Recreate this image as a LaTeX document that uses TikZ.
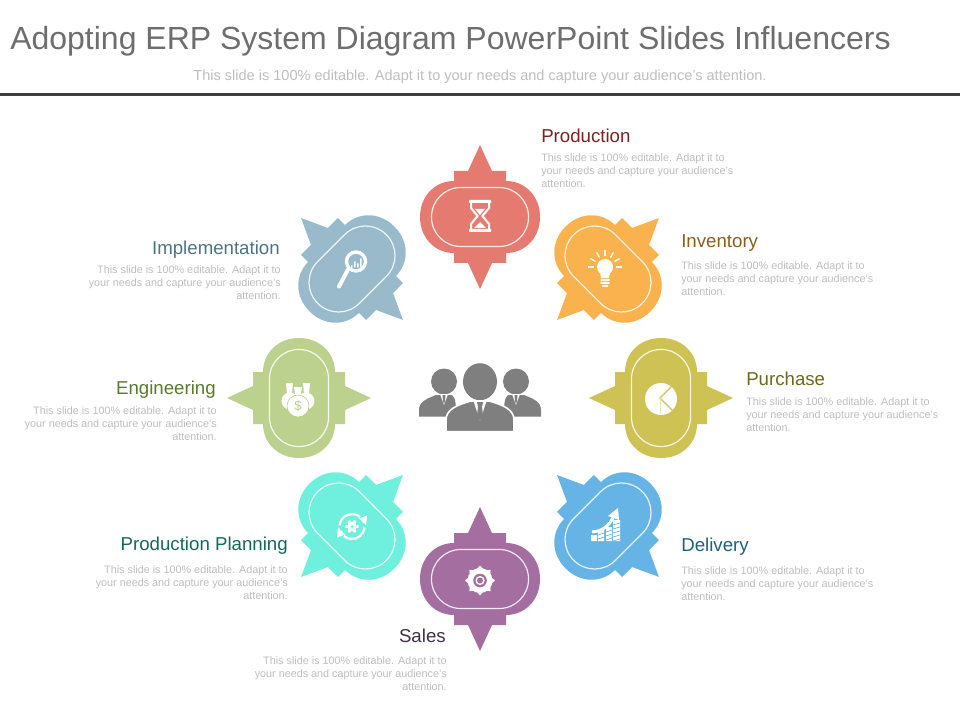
\documentclass[tikz,border=0pt]{standalone}
\usepackage{fontspec}
\setmainfont{Liberation Sans}
\usepackage{tikz}
\definecolor{petalProd}{RGB}{229, 123, 112}
\definecolor{petalInv}{RGB}{249, 178, 78}
\definecolor{petalPurch}{RGB}{207, 194, 84}
\definecolor{petalDeliv}{RGB}{102, 179, 230}
\definecolor{petalSales}{RGB}{165, 110, 160}
\definecolor{petalPlan}{RGB}{111, 240, 222}
\definecolor{petalEng}{RGB}{189, 209, 143}
\definecolor{petalImpl}{RGB}{152, 186, 202}
\definecolor{headProd}{RGB}{122, 35, 35}
\definecolor{headInv}{RGB}{139, 94, 30}
\definecolor{headPurch}{RGB}{109, 106, 31}
\definecolor{headDeliv}{RGB}{31, 95, 128}
\definecolor{headSales}{RGB}{64, 48, 74}
\definecolor{headPlan}{RGB}{20, 105, 93}
\definecolor{headEng}{RGB}{92, 122, 45}
\definecolor{headImpl}{RGB}{78, 116, 132}
\definecolor{greyTitle}{RGB}{110, 110, 110}
\definecolor{greyBlurb}{RGB}{190, 190, 190}
\definecolor{greyPeople}{RGB}{127, 127, 127}
\newcommand{\blurbtxt}{This slide is 100\% editable. Adapt it to\\your needs and capture your audience's\\attention.}
\tikzset{
    petal/.pic={
        \fill[#1] (0,-72) -- (12,-46) -- (26,-46) -- (26,-36)
            .. controls (45,-36) and (60,-21) .. (60,0)
            .. controls (60,21) and (45,36) .. (26,36)
            -- (26,46) -- (12,46) -- (0,72) -- (-12,46) -- (-26,46) -- (-26,36)
            .. controls (-45,36) and (-60,21) .. (-60,0)
            .. controls (-60,-21) and (-45,-36) .. (-26,-36)
            -- (-26,-46) -- (-12,-46) -- cycle;
        \draw[white!85!#1,line width=0.9pt,rounded corners=22pt] (-48.5,-29.5) rectangle (48.5,29.5);
    },
    hourglass/.pic={
        \fill[white] (-11,-16) rectangle (11,-13) (-11,13) rectangle (11,16);
        \draw[white,line width=1.5pt] (-9,-13) -- (-9,-8) -- (-2.5,0) -- (-9,8) -- (-9,13)
            (9,-13) -- (9,-8) -- (2.5,0) -- (9,8) -- (9,13);
        \fill[white] (-5,-7) -- (5,-7) -- (0,-1) -- cycle (-6,12) -- (0,6) -- (6,12) -- cycle;
    },
    bulb/.pic={
        \fill[white] (0,0) circle (8) (-5,5) -- (5,5) -- (4,11) -- (-4,11) -- cycle;
        \fill[white] (-4.5,12) rectangle (4.5,14) (-4.5,15) rectangle (4.5,17) (-3,18) rectangle (3,20);
        \foreach \a in {180,150,120,90,60,30,0}
            \draw[white,line width=1pt] (\a+180:11) -- (\a+180:17);
    },
    piemark/.pic={
        \fill[white] (0,0) circle (16);
        \draw[#1,line width=0.9pt] (11,-13) -- (-1,-1) -- (12,12);
        \draw[#1!40!white,line width=0.6pt] (-1,-1) -- (-1,15);
    },
    barmark/.pic={
        \fill[white] (-14,10) rectangle (-8,16) (-7,5) rectangle (-1,16) (1,2) rectangle (7,16) (8,-5) rectangle (15,16);
        \foreach \y in {9,13} \draw[#1,line width=0.5pt] (-7,\y+1) -- (-1,\y-1);
        \foreach \y in {6,10,14} \draw[#1,line width=0.5pt] (1,\y+1) -- (7,\y-1);
        \foreach \y in {-1,3,7,11,15} \draw[#1,line width=0.5pt] (8,\y+1) -- (15,\y-1);
        \draw[white,line width=2.2pt] (-13,7) .. controls (-2,6) and (4,1) .. (9,-9);
        \fill[white] (13,-17) -- (14,-5) -- (3,-9) -- cycle;
    },
    gearmark/.pic={
        \fill[white] (0,0) circle (12.5);
        \foreach \a in {0,45,...,315}
            \fill[white] (\a-14:12) -- (\a:15) -- (\a+14:12) -- cycle;
        \fill[#1] (0,0) circle (6.8);
        \fill[white] (0,0) circle (4.6);
        \fill[#1] (0,0) circle (3);
    },
    cyclemark/.pic={
        \foreach \t in {0,180} {
            \begin{scope}[rotate=\t]
                \draw[white,line width=1.7pt] (185:12.5) arc (185:310:12.5);
                \fill[white] (7,-8) -- (15,-11) -- (14,-1) -- cycle;
            \end{scope}
        }
        \fill[white] (0,0) circle (4.8);
        \foreach \a in {0,60,...,300}
            \fill[white] (\a-20:4.2) -- (\a-12:6.8) -- (\a+12:6.8) -- (\a+20:4.2) -- cycle;
        \fill[#1] (0,0) circle (1.5);
    },
    bagsmark/.pic={
        \fill[white] (-8,3) circle (8.5) (8,3) circle (8.5);
        \fill[white] (-12,-15) -- (-5,-15) -- (-6,-4) -- (-11,-4) -- cycle
            (12,-15) -- (5,-15) -- (6,-4) -- (11,-4) -- cycle
            (-4,-11) -- (4,-11) -- (2.5,-2) -- (-2.5,-2) -- cycle;
        \filldraw[fill=white,draw=#1,line width=0.5pt] (0,8) circle (11);
        \node[font=\fontsize{10}{10}\selectfont,text=#1,inner sep=0pt] (bagsign) at (0,8) {\$};
    },
    lensmark/.pic={
        \draw[white,line width=2.5pt] (0,0) circle (9.5);
        \draw[white,line width=3pt,line cap=round] (-8,8) -- (-17,25);
        \fill[white] (-5,4) rectangle (-3.5,6) (-2,0) rectangle (-0.5,6) (1,2) rectangle (2.5,6) (4,-3) rectangle (5.5,6);
    },
    peoplemark/.pic={
        % side figures
        \foreach \s in {-1,1} {
            \fill[greyPeople] (\s*36,-16.5) ellipse (13 and 13);
            \fill[greyPeople] (\s*61,18.7) -- (\s*61,12) .. controls (\s*61,4) and (\s*54,1) .. (\s*44,-3)
                -- (\s*28,-3) .. controls (\s*24,0) and (\s*24,8) .. (\s*24,18.7) -- cycle;
            \fill[white] (\s*40,-4) -- (\s*36,7) -- (\s*32,-4) -- cycle;
            \fill[greyPeople] (\s*37.5,-3) -- (\s*34.5,-3) -- (\s*35,3) -- (\s*36,6) -- (\s*37,3) -- cycle;
        }
        % front figure
        \fill[greyPeople] (0,-16.3) ellipse (17 and 18.5);
        \filldraw[fill=greyPeople,draw=white,line width=1.2pt] (-34,33.7) -- (-34,22)
            .. controls (-34,12) and (-24,7) .. (-9,3) -- (9,3) .. controls (24,7) and (34,12) .. (34,22)
            -- (34,33.7) -- cycle;
        \fill[white] (-6.5,3) -- (0,23) -- (6.5,3) -- cycle;
        \fill[greyPeople] (-3,4) -- (3,4) -- (2,9) -- (3,17) -- (0,23) -- (-3,17) -- (-2,9) -- cycle;
    }
}
\begin{document}
\begin{tikzpicture}[x=0.75pt,y=-0.75pt,
    headtext/.style={font=\fontsize{14}{16}\selectfont,inner sep=0pt},
    blurb/.style={font=\fontsize{8.1}{9.75}\selectfont,text=greyBlurb,inner sep=0pt},
    blurbleft/.style={blurb,anchor=north west,align=left},
    blurbright/.style={blurb,anchor=north east,align=right}
]
\useasboundingbox[fill=white] (0,0) rectangle (960,720);

\node[font=\fontsize{24}{28}\selectfont,text=greyTitle,anchor=west,inner sep=0pt] (slidetitle) at (10,41) {Adopting ERP System Diagram PowerPoint Slides Influencers};
\node[font=\fontsize{10.9}{12}\selectfont,text=greyBlurb,inner sep=0pt] (slidesub) at (480,76.5) {This slide is 100\% editable. Adapt it to your needs and capture your audience's attention.};
\fill[black!75] (0,93.5) rectangle (960,96.5);

% petals clockwise from the top
\pic at (480,217) {petal=petalProd};
\pic[rotate=-45] at (608,269) {petal=petalInv};
\pic[rotate=90] at (661,398) {petal=petalPurch};
\pic[rotate=45] at (608,526) {petal=petalDeliv};
\pic at (480,579) {petal=petalSales};
\pic[rotate=-45] at (352,526) {petal=petalPlan};
\pic[rotate=90] at (299,398) {petal=petalEng};
\pic[rotate=45] at (352,269) {petal=petalImpl};

% icons
\pic at (480,216) {hourglass};
\pic at (605,267) {bulb};
\pic at (661,399) {piemark=petalPurch};
\pic at (605,525) {barmark=petalDeliv};
\pic at (480,580.5) {gearmark=petalSales};
\pic at (352,526.5) {cyclemark=petalPlan};
\pic at (298,398) {bagsmark=petalEng};
\pic at (356,261.5) {lensmark};
\pic at (480,398) {peoplemark};

% labels
\node[headtext,text=headProd,anchor=base west] (prodhead) at (541,142.5) {Production};
\node[blurbleft] (prodtext) at (541,153) {\blurbtxt};
\node[headtext,text=headInv,anchor=base west] (invhead) at (681,248) {Inventory};
\node[blurbleft] (invtext) at (681,261) {\blurbtxt};
\node[headtext,text=headPurch,anchor=base west] (purchhead) at (746,385) {Purchase};
\node[blurbleft] (purchtext) at (746,397) {\blurbtxt};
\node[headtext,text=headDeliv,anchor=base west] (delivhead) at (681,551) {Delivery};
\node[blurbleft] (delivtext) at (681,566) {\blurbtxt};
\node[headtext,text=headSales,anchor=base east] (saleshead) at (446,642) {Sales};
\node[blurbright] (salestext) at (447,656) {\blurbtxt};
\node[headtext,text=headPlan,anchor=base east] (planhead) at (288,550) {Production Planning};
\node[blurbright] (plantext) at (288,565) {\blurbtxt};
\node[headtext,text=headEng,anchor=base east] (enghead) at (216,394) {Engineering};
\node[blurbright] (engtext) at (217,406) {\blurbtxt};
\node[headtext,text=headImpl,anchor=base east] (implhead) at (280,254.5) {Implementation};
\node[blurbright] (impltext) at (281,265) {\blurbtxt};
\end{tikzpicture}
\end{document}
